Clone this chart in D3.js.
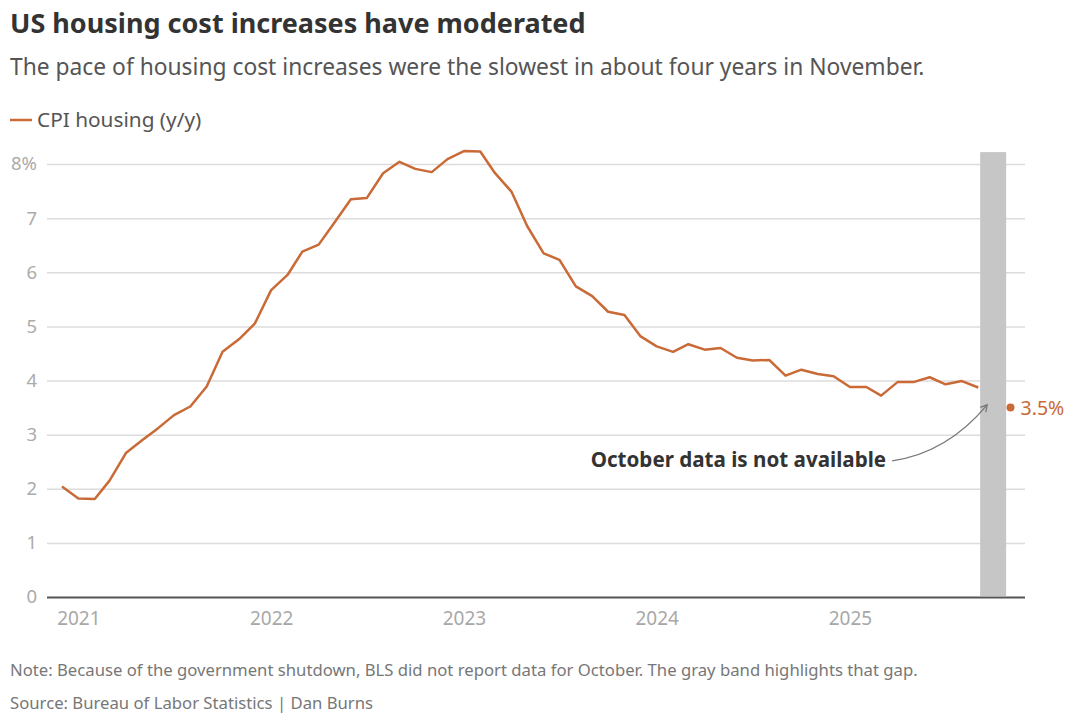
<!DOCTYPE html>
<html>
  <head>
    <meta http-equiv="Content-Type" content="text/html;charset=utf-8"/>
    <script src="https://d3js.org/d3.v7.min.js"></script>
    <style>
      body { margin: 0; background: #fff; }
      text { font-family: "Noto Sans", "Open Sans", sans-serif; }
    </style>
  </head>
  <body>
    <script type="text/javascript">

// CPI housing, year over year %, monthly Dec 2020 .. Sep 2025 (Oct 2025 missing)
var months = [
  "2020-12",
  "2021-01","2021-02","2021-03","2021-04","2021-05","2021-06","2021-07","2021-08","2021-09","2021-10","2021-11","2021-12",
  "2022-01","2022-02","2022-03","2022-04","2022-05","2022-06","2022-07","2022-08","2022-09","2022-10","2022-11","2022-12",
  "2023-01","2023-02","2023-03","2023-04","2023-05","2023-06","2023-07","2023-08","2023-09","2023-10","2023-11","2023-12",
  "2024-01","2024-02","2024-03","2024-04","2024-05","2024-06","2024-07","2024-08","2024-09","2024-10","2024-11","2024-12",
  "2025-01","2025-02","2025-03","2025-04","2025-05","2025-06","2025-07","2025-08","2025-09"
];
var housing = [
  2.04,
  1.82, 1.81, 2.15, 2.66, 2.89, 3.12, 3.36, 3.52, 3.89, 4.53, 4.76, 5.05,
  5.67, 5.95, 6.38, 6.51, 6.92, 7.35, 7.37, 7.83, 8.04, 7.91, 7.85, 8.09,
  8.24, 8.23, 7.83, 7.49, 6.85, 6.35, 6.23, 5.74, 5.56, 5.27, 5.21, 4.82,
  4.63, 4.53, 4.67, 4.57, 4.60, 4.42, 4.37, 4.38, 4.09, 4.20, 4.12, 4.08,
  3.88, 3.88, 3.72, 3.97, 3.97, 4.06, 3.93, 3.99, 3.87
];
var latestMonth = "2025-11", latestValue = 3.5;
var gapMonth = "2025-10";
var yTicks = [0, 1, 2, 3, 4, 5, 6, 7, 8];
var xTicks = ["2021-01", "2022-01", "2023-01", "2024-01", "2025-01"];

var W = 1080, H = 717;
var plotL = 47, plotR = 1025, plotT = 164, plotB = 597;
var orange = "#c96a37";

var parse = d3.timeParse("%Y-%m");
var data = months.map(function(m, i) { return { date: parse(m), value: housing[i] }; });

var x = d3.scaleTime()
  .domain([parse("2020-12"), parse("2025-11")])
  .range([62, 1010.5]);
var y = d3.scaleLinear().domain([0, 8]).range([plotB, plotT]);

var svg = d3.select("body").append("svg")
  .attr("width", W)
  .attr("height", H);

// titles
svg.append("text").attr("x", 10).attr("y", 33)
  .style("font-size", "27px").style("font-weight", 700).attr("fill", "#333")
  .text("US housing cost increases have moderated");
svg.append("text").attr("x", 10).attr("y", 75)
  .style("font-size", "22.8px").attr("fill", "#555")
  .text("The pace of housing cost increases were the slowest in about four years in November.");

// legend
svg.append("line").attr("x1", 10).attr("x2", 32).attr("y1", 120).attr("y2", 120)
  .attr("stroke", orange).attr("stroke-width", 2.5);
svg.append("text").attr("x", 37).attr("y", 127)
  .style("font-size", "20.8px").attr("fill", "#555")
  .text("CPI housing (y/y)");

// y grid + labels
var yAxis = d3.axisLeft(y).tickValues(yTicks)
  .tickSize(-(plotR - plotL))
  .tickFormat(function(d) { return d === 8 ? "8%" : d; });
var gy = svg.append("g").attr("transform", "translate(" + plotL + ",0)").call(yAxis);
gy.select(".domain").remove();
gy.selectAll(".tick line")
  .attr("stroke", function(d) { return d === 0 ? "#555" : "#dcdcdc"; })
  .attr("stroke-width", function(d) { return d === 0 ? 2 : 1.5; });
gy.selectAll(".tick text")
  .attr("x", -10)
  .style("font-size", "18.5px").style("font-family", "'Noto Sans', sans-serif")
  .attr("fill", "#ababab");

// x labels
var xAxis = d3.axisBottom(x).tickValues(xTicks.map(parse))
  .tickSize(0).tickFormat(d3.timeFormat("%Y"));
var gxA = svg.append("g").attr("transform", "translate(0," + plotB + ")").call(xAxis);
gxA.select(".domain").remove();
gxA.selectAll(".tick text")
  .attr("dy", "0").attr("y", 28)
  .style("font-size", "19px").style("font-family", "'Noto Sans', sans-serif")
  .attr("fill", "#a8a8a8");

// gray band for missing October, over the gridlines
var gx = x(parse(gapMonth));
svg.append("rect")
  .attr("x", gx - 14).attr("width", 26)
  .attr("y", y(8.22)).attr("height", y(0) - y(8.22) - 1)
  .attr("fill", "#c6c6c6");

// line
var line = d3.line().x(function(d) { return x(d.date); }).y(function(d) { return y(d.value); });
svg.append("path").datum(data)
  .attr("d", line)
  .attr("fill", "none")
  .attr("stroke", orange)
  .attr("stroke-width", 2.5)
  .attr("stroke-linejoin", "round");

// latest point
var lx = x(parse(latestMonth)), ly = y(latestValue);
svg.append("circle").attr("cx", lx).attr("cy", ly).attr("r", 4).attr("fill", orange);
svg.append("text").attr("x", lx + 10).attr("y", ly + 7)
  .style("font-size", "19.5px").attr("fill", orange)
  .text(latestValue + "%");

// annotation
var ax = gx - 7, ay = y(3.55);
svg.append("defs").append("marker")
  .attr("id", "arr").attr("viewBox", "0 0 10 10")
  .attr("refX", 8).attr("refY", 5)
  .attr("markerWidth", 7).attr("markerHeight", 7)
  .attr("orient", "auto")
  .append("path").attr("d", "M1,1 L8,5 L1,9")
  .attr("fill", "none").attr("stroke", "#777").attr("stroke-width", 1.4);
svg.append("path")
  .attr("d", "M" + (ax - 95) + "," + (ay + 56) + " Q" + (ax - 40) + "," + (ay + 48) + " " + ax + "," + ay)
  .attr("fill", "none").attr("stroke", "#777").attr("stroke-width", 1.3)
  .attr("marker-end", "url(#arr)");
svg.append("text").attr("x", ax - 101).attr("y", ay + 62)
  .attr("text-anchor", "end")
  .style("font-size", "20.6px").style("font-weight", 700).attr("fill", "#333")
  .text("October data is not available");

// footnotes
svg.append("text").attr("x", 10).attr("y", 676)
  .style("font-size", "16.7px").attr("fill", "#777")
  .text("Note: Because of the government shutdown, BLS did not report data for October. The gray band highlights that gap.");
svg.append("text").attr("x", 10).attr("y", 709)
  .style("font-size", "16.7px").attr("fill", "#777")
  .text("Source: Bureau of Labor Statistics | Dan Burns");

    </script>
  </body>
</html>
